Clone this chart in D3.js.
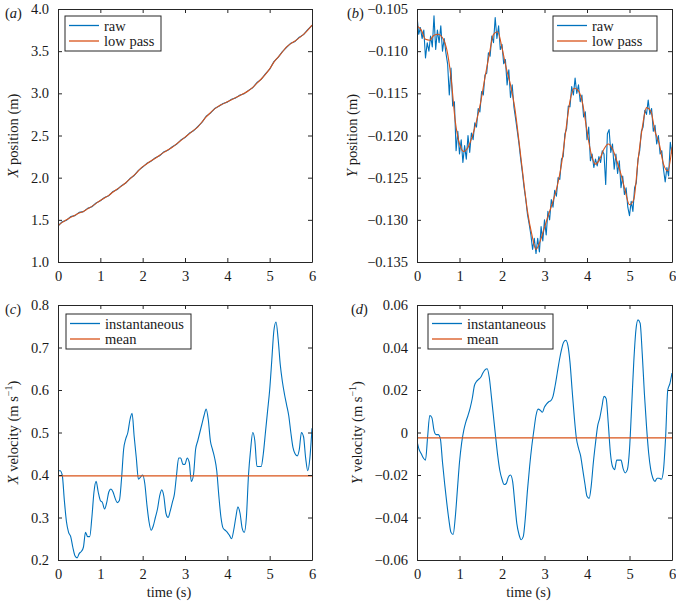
<!DOCTYPE html>
<html>
<head>
<meta charset="utf-8">
<script src="https://cdn.jsdelivr.net/npm/d3@7"></script>
<style>
  html, body { margin: 0; padding: 0; background: #fff; }
  svg { display: block; }
  svg text { font-family: "Liberation Serif", "Times New Roman", Times, "Nimbus Roman", "Noto Serif", "DejaVu Serif", FreeSerif, serif; fill: #1a1a1a; }
</style>
</head>
<body>
<svg id="chart" width="676" height="601"></svg>
<script>
// ---------------- DATA ----------------
const xTickValues = [0, 1, 2, 3, 4, 5, 6];
const xTickLabels = ["0", "1", "2", "3", "4", "5", "6"];

// (a) X position, sampled every 0.1 s
const xPosLowPass = [1.43,1.47,1.50,1.53,1.555,1.58,1.60,1.63,1.66,1.695,
  1.73,1.76,1.79,1.83,1.865,1.90,1.94,1.985,2.03,2.08,
  2.13,2.165,2.20,2.23,2.265,2.30,2.33,2.36,2.40,2.44,
  2.48,2.52,2.56,2.60,2.66,2.72,2.77,2.815,2.85,2.875,
  2.90,2.925,2.95,2.975,3.00,3.03,3.07,3.12,3.17,3.225,
  3.29,3.37,3.43,3.49,3.55,3.59,3.62,3.66,3.70,3.75,3.81];
const xPosRaw = [1.425,1.478,1.495,1.538,1.55,1.588,1.597,1.636,1.655,1.70,
  1.726,1.765,1.786,1.836,1.86,1.905,1.936,1.99,2.026,2.087,
  2.126,2.17,2.196,2.236,2.26,2.306,2.326,2.366,2.396,2.446,
  2.476,2.526,2.556,2.606,2.656,2.728,2.765,2.82,2.846,2.88,
  2.896,2.93,2.946,2.98,2.996,3.035,3.066,3.128,3.165,3.23,
  3.286,3.376,3.426,3.495,3.546,3.595,3.616,3.666,3.696,3.755,3.806];
const xPosTicks = [1.0, 1.5, 2.0, 2.5, 3.0, 3.5, 4.0];
const xPosTickLabels = ["1.0","1.5","2.0","2.5","3.0","3.5","4.0"];

// (b) Y position: low pass every 0.1 s, raw every 0.04 s
const yPosLowPass = [-0.1070,-0.1075,-0.1086,-0.1087,-0.1081,-0.1080,-0.1084,-0.1098,-0.1131,-0.1183,
  -0.1210,-0.1219,-0.1214,-0.1201,-0.1183,-0.1160,-0.1131,-0.1104,-0.1080,-0.1077,
  -0.1096,-0.1120,-0.1140,-0.1167,-0.1207,-0.1250,-0.1290,-0.1317,-0.1335,-0.1325,
  -0.1309,-0.1293,-0.1278,-0.1260,-0.1234,-0.1195,-0.1159,-0.1144,-0.1147,-0.1163,
  -0.1195,-0.1222,-0.1234,-0.1228,-0.1216,-0.1210,-0.1216,-0.1230,-0.1246,-0.1266,
  -0.1282,-0.1276,-0.1230,-0.1191,-0.1167,-0.1171,-0.1195,-0.1210,-0.1234,-0.1242,-0.1214];
const yPosRaw = [-0.1058,-0.1080,-0.1072,-0.1085,-0.1075,-0.1108,-0.1090,-0.1100,-0.1082,-0.1095,
  -0.1058,-0.1098,-0.1075,-0.1090,-0.1070,-0.1100,-0.1085,-0.1102,-0.1115,-0.1152,
  -0.1120,-0.1165,-0.1160,-0.1218,-0.1195,-0.1222,-0.1205,-0.1232,-0.1212,-0.1228,
  -0.1200,-0.1220,-0.1197,-0.1205,-0.1185,-0.1190,-0.1168,-0.1172,-0.1148,-0.1152,
  -0.1128,-0.1126,-0.1102,-0.1106,-0.1082,-0.1090,-0.1060,-0.1085,-0.1070,-0.1098,
  -0.1092,-0.1115,-0.1110,-0.1140,-0.1122,-0.1155,-0.1140,-0.1166,-0.1180,-0.1195,
  -0.1210,-0.1228,-0.1244,-0.1262,-0.1276,-0.1294,-0.1305,-0.1318,-0.1335,-0.1322,
  -0.1340,-0.1322,-0.1338,-0.1308,-0.1325,-0.1300,-0.1318,-0.1290,-0.1300,-0.1276,
  -0.1285,-0.1265,-0.1272,-0.1250,-0.1252,-0.1228,-0.1225,-0.1198,-0.1192,-0.1165,
  -0.1166,-0.1142,-0.1152,-0.1132,-0.1150,-0.1140,-0.1160,-0.1152,-0.1178,-0.1172,
  -0.1205,-0.1190,-0.1230,-0.1222,-0.1238,-0.1228,-0.1236,-0.1225,-0.1232,-0.1218,
  -0.1222,-0.1258,-0.1198,-0.1193,-0.1220,-0.1210,-0.1240,-0.1222,-0.1245,-0.1230,
  -0.1262,-0.1248,-0.1270,-0.1262,-0.1285,-0.1295,-0.1278,-0.1290,-0.1262,-0.1256,
  -0.1228,-0.1218,-0.1195,-0.1190,-0.1170,-0.1175,-0.1158,-0.1175,-0.1168,-0.1195,
  -0.1188,-0.1210,-0.1200,-0.1222,-0.1218,-0.1240,-0.1255,-0.1238,-0.1248,-0.1208,-0.1222];
const yPosTicks = [-0.135,-0.130,-0.125,-0.120,-0.115,-0.110,-0.105];
const yPosTickLabels = ["\u22120.135","\u22120.130","\u22120.125","\u22120.120","\u22120.115","\u22120.110","\u22120.105"];

// (c) X velocity, every 0.05 s
const xVel = [0.41,0.41,0.40,0.34,0.29,0.265,0.255,0.23,0.21,0.205,
  0.215,0.22,0.23,0.265,0.255,0.255,0.30,0.36,0.385,0.36,
  0.34,0.335,0.32,0.335,0.36,0.367,0.36,0.345,0.335,0.34,
  0.39,0.46,0.485,0.50,0.53,0.545,0.49,0.44,0.39,0.395,
  0.40,0.38,0.33,0.29,0.27,0.28,0.30,0.32,0.35,0.365,
  0.35,0.31,0.30,0.315,0.335,0.355,0.40,0.44,0.44,0.425,
  0.425,0.44,0.43,0.385,0.40,0.46,0.48,0.50,0.52,0.54,
  0.555,0.53,0.48,0.46,0.44,0.41,0.35,0.30,0.275,0.27,
  0.265,0.258,0.25,0.27,0.30,0.325,0.31,0.275,0.265,0.30,
  0.40,0.46,0.50,0.48,0.42,0.42,0.42,0.45,0.50,0.55,
  0.60,0.67,0.74,0.76,0.72,0.66,0.62,0.59,0.565,0.54,
  0.50,0.465,0.45,0.445,0.46,0.50,0.49,0.44,0.41,0.44,0.51];
const xVelMean = 0.398;
const xVelTicks = [0.2,0.3,0.4,0.5,0.6,0.7,0.8];
const xVelTickLabels = ["0.2","0.3","0.4","0.5","0.6","0.7","0.8"];

// (d) Y velocity, every 0.05 s
const yVel = [-0.004,-0.008,-0.010,-0.012,-0.013,-0.002,0.008,0.007,0.001,-0.001,
  -0.001,-0.003,-0.014,-0.024,-0.033,-0.041,-0.047,-0.048,-0.040,-0.027,
  -0.014,-0.005,0.001,0.005,0.008,0.0115,0.016,0.022,0.024,0.025,
  0.026,0.028,0.0295,0.030,0.026,0.017,0.0075,-0.002,-0.011,-0.018,
  -0.022,-0.0245,-0.024,-0.021,-0.020,-0.023,-0.033,-0.043,-0.048,-0.0505,
  -0.049,-0.040,-0.027,-0.016,-0.0066,0.001,0.008,0.011,0.0105,0.0095,
  0.012,0.0135,0.0145,0.015,0.017,0.022,0.028,0.034,0.039,0.0425,
  0.0434,0.041,0.033,0.020,0.0075,-0.0027,-0.0074,-0.011,-0.0175,-0.024,
  -0.030,-0.031,-0.025,-0.014,-0.005,0.003,0.0068,0.012,0.017,0.016,
  0.0045,-0.0095,-0.016,-0.0175,-0.013,-0.013,-0.013,-0.017,-0.019,-0.0175,
  -0.008,0.012,0.033,0.048,0.053,0.0515,0.037,0.0185,0.003,-0.0095,
  -0.0175,-0.0215,-0.023,-0.0215,-0.0215,-0.022,-0.0175,-0.002,0.020,0.023,0.028];
const yVelMean = -0.0025;
const yVelTicks = [-0.06,-0.04,-0.02,0,0.02,0.04,0.06];
const yVelTickLabels = ["\u22120.06","\u22120.04","\u22120.02","0","0.02","0.04","0.06"];

// ---------------- DRAWING ----------------
const BLUE = "#0072BD";
const ORANGE = "#D95319";
const AXIS = "#262626";
const FS = 14.5;
const FONT = '"Liberation Serif", "Times New Roman", Times, "Nimbus Roman", "Noto Serif", "DejaVu Serif", FreeSerif, serif';

const svg = d3.select("#chart");

function timeSeries(values, step) {
  return values.map((v, i) => ({ t: i * step, v: v }));
}

function panel(cfg) {
  const { left, right, top, bottom } = cfg.box;
  const x = d3.scaleLinear().domain([0, 6]).range([left, right]);
  const y = d3.scaleLinear().domain(cfg.yDomain).range([bottom, top]);
  const g = svg.append("g").attr("font-family", FONT);

  const clipId = "clip" + cfg.id;
  svg.append("clipPath").attr("id", clipId)
    .append("rect").attr("x", left).attr("y", top)
    .attr("width", right - left).attr("height", bottom - top);

  const plot = g.append("g").attr("clip-path", `url(#${clipId})`);
  cfg.series.forEach(s => {
    const line = d3.line().x(d => x(d.t)).y(d => y(d.v))
      .curve(s.smooth ? d3.curveMonotoneX : d3.curveLinear);
    plot.append("path").datum(s.data)
      .attr("fill", "none").attr("stroke", s.color)
      .attr("stroke-width", s.width || 1.1)
      .attr("stroke-linejoin", "round")
      .attr("d", line);
  });

  // axes (inward ticks on all four sides)
  const tl = 4;
  const fmtX = (d, i) => xTickLabels[i];
  const fmtY = (d, i) => cfg.yTickLabels[i];
  const axB = g.append("g").attr("transform", `translate(0,${bottom})`)
    .call(d3.axisBottom(x).tickValues(xTickValues).tickFormat(fmtX).tickSizeInner(-tl).tickSizeOuter(0).tickPadding(9));
  const axT = g.append("g").attr("transform", `translate(0,${top})`)
    .call(d3.axisTop(x).tickValues(xTickValues).tickFormat("").tickSizeInner(-tl).tickSizeOuter(0));
  const axL = g.append("g").attr("transform", `translate(${left},0)`)
    .call(d3.axisLeft(y).tickValues(cfg.yTicks).tickFormat(fmtY).tickSizeInner(-tl).tickSizeOuter(0).tickPadding(9));
  const axR = g.append("g").attr("transform", `translate(${right},0)`)
    .call(d3.axisRight(y).tickValues(cfg.yTicks).tickFormat("").tickSizeInner(-tl).tickSizeOuter(0));
  [axB, axT, axL, axR].forEach(a => {
    a.attr("font-family", FONT).attr("font-size", FS);
    a.select(".domain").attr("stroke", AXIS).attr("stroke-width", 1);
    a.selectAll(".tick line").attr("stroke", AXIS).attr("stroke-width", 1);
    a.selectAll(".tick text").attr("font-size", FS).attr("fill", "#1a1a1a");
  });

  // panel letter
  const lab = g.append("text").attr("x", cfg.letterX).attr("y", top + 9)
    .attr("font-size", FS);
  lab.append("tspan").text("(");
  lab.append("tspan").attr("font-style", "italic").text(cfg.letter);
  lab.append("tspan").text(")");

  // y label
  const yl = g.append("text")
    .attr("transform", `translate(${cfg.yLabelX},${(top + bottom) / 2}) rotate(-90)`)
    .attr("text-anchor", "middle").attr("font-size", FS);
  yl.append("tspan").attr("font-style", "italic").text(cfg.yLabelVar);
  yl.append("tspan").text(cfg.yLabelRest);
  if (cfg.yLabelSup) {
    yl.append("tspan").attr("font-size", 10).attr("dy", -6).text(cfg.yLabelSup);
    yl.append("tspan").attr("dy", 6).text(")");
  }

  // x label
  if (cfg.xLabel) {
    g.append("text").attr("x", (left + right) / 2 - 16).attr("y", bottom + 37)
      .attr("text-anchor", "middle").attr("font-size", FS).text(cfg.xLabel);
  }

  // legend
  const L = cfg.legend;
  const lg = g.append("g");
  lg.append("rect").attr("x", L.x).attr("y", L.y).attr("width", L.w).attr("height", 35)
    .attr("fill", "#fff").attr("stroke", AXIS).attr("stroke-width", 1);
  L.items.forEach((it, i) => {
    const cy = L.y + 9.5 + i * 15.5;
    lg.append("line").attr("x1", L.x + 4).attr("x2", L.x + 34)
      .attr("y1", cy).attr("y2", cy).attr("stroke", it.color).attr("stroke-width", 1.3);
    lg.append("text").attr("x", L.x + 39).attr("y", cy + 5)
      .attr("font-size", FS).text(it.label);
  });
}

// (a)
panel({
  id: "a", letter: "a", letterX: 5,
  box: { left: 58, right: 312, top: 9, bottom: 262 },
  yDomain: [1.0, 4.0], yTicks: xPosTicks, yTickLabels: xPosTickLabels,
  yLabelX: 18, yLabelVar: "X", yLabelRest: " position (m)",
  series: [
    { data: timeSeries(xPosRaw, 0.1), color: BLUE, smooth: false },
    { data: timeSeries(xPosLowPass, 0.1), color: ORANGE, smooth: true }
  ],
  legend: { x: 65, y: 16, w: 96, items: [{ label: "raw", color: BLUE }, { label: "low pass", color: ORANGE }] }
});

// (b)
panel({
  id: "b", letter: "b", letterX: 347,
  box: { left: 417, right: 672, top: 9, bottom: 262 },
  yDomain: [-0.135, -0.105], yTicks: yPosTicks, yTickLabels: yPosTickLabels,
  yLabelX: 357, yLabelVar: "Y", yLabelRest: " position (m)",
  series: [
    { data: timeSeries(yPosRaw, 0.04), color: BLUE, smooth: false },
    { data: timeSeries(yPosLowPass, 0.1), color: ORANGE, smooth: true }
  ],
  legend: { x: 553, y: 16, w: 104, items: [{ label: "raw", color: BLUE }, { label: "low pass", color: ORANGE }] }
});

// (c)
panel({
  id: "c", letter: "c", letterX: 5,
  box: { left: 58, right: 312, top: 305, bottom: 560 },
  yDomain: [0.2, 0.8], yTicks: xVelTicks, yTickLabels: xVelTickLabels,
  yLabelX: 18, yLabelVar: "X", yLabelRest: " velocity (m s", yLabelSup: "\u22121",
  xLabel: "time (s)",
  series: [
    { data: timeSeries(xVel, 0.05), color: BLUE, smooth: true },
    { data: [{ t: 0, v: xVelMean }, { t: 6, v: xVelMean }], color: ORANGE, smooth: false, width: 1.3 }
  ],
  legend: { x: 66, y: 314, w: 125, items: [{ label: "instantaneous", color: BLUE }, { label: "mean", color: ORANGE }] }
});

// (d)
panel({
  id: "d", letter: "d", letterX: 351,
  box: { left: 417, right: 672, top: 305, bottom: 560 },
  yDomain: [-0.06, 0.06], yTicks: yVelTicks, yTickLabels: yVelTickLabels,
  yLabelX: 362, yLabelVar: "Y", yLabelRest: " velocity (m s", yLabelSup: "\u22121",
  xLabel: "time (s)",
  series: [
    { data: timeSeries(yVel, 0.05), color: BLUE, smooth: true },
    { data: [{ t: 0, v: yVelMean }, { t: 6, v: yVelMean }], color: ORANGE, smooth: false, width: 1.3 }
  ],
  legend: { x: 428, y: 314, w: 125, items: [{ label: "instantaneous", color: BLUE }, { label: "mean", color: ORANGE }] }
});
</script>
</body>
</html>
